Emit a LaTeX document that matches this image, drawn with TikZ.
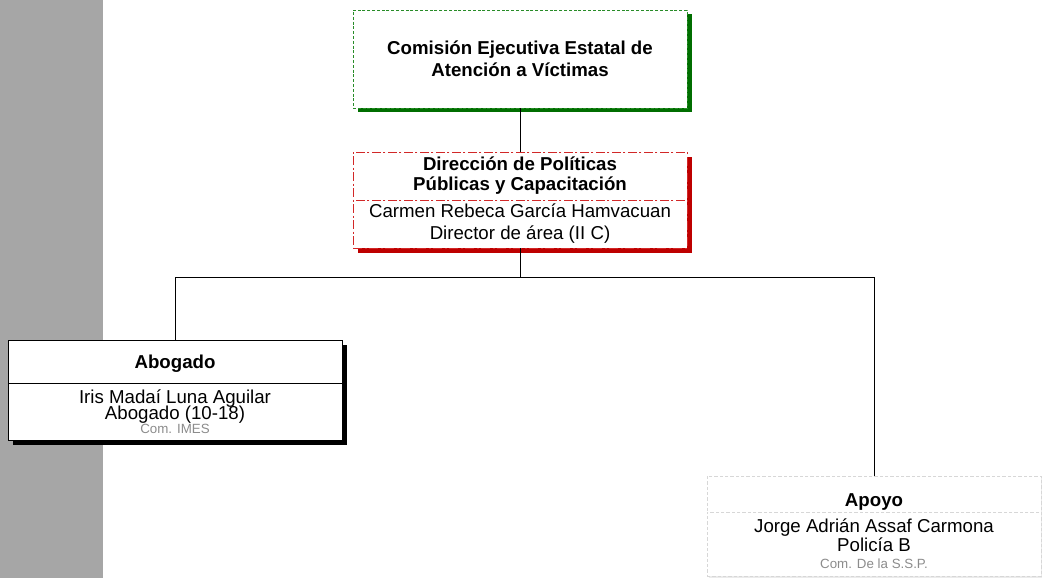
\documentclass[tikz,border=0pt]{standalone}
\usepackage{fontspec}
\setmainfont{Liberation Sans}
\usetikzlibrary{positioning,shadows}

\definecolor{stripgray}{RGB}{166,166,166}
\definecolor{cmsgreen}{RGB}{40,140,40}
\definecolor{shgreen}{RGB}{0,110,0}
\definecolor{dirred}{RGB}{210,40,40}
\definecolor{shred}{RGB}{190,0,0}
\definecolor{apogray}{RGB}{215,215,215}
\definecolor{aposhadow}{RGB}{235,235,235}
\definecolor{comgray}{RGB}{140,140,140}

\tikzset{
  unit/.style={rectangle, fill=white, minimum width=250.5pt, inner sep=1pt, outer sep=0pt, align=center, font=\fontsize{14}{15}\selectfont},
  greenbox/.style={unit, draw=cmsgreen, dash pattern=on 2.2pt off 1.4pt, general shadow={fill=shgreen, shadow xshift=3.5pt, shadow yshift=-3pt}},
  redbox/.style={unit, draw=dirred, dash pattern=on 7pt off 1.8pt on 1.4pt off 1.8pt, general shadow={fill=shred, shadow xshift=4pt, shadow yshift=-3.5pt}},
  blackbox/.style={unit, draw=black, general shadow={fill=black, shadow xshift=4pt, shadow yshift=-3.5pt}},
  greybox/.style={unit, draw=apogray, dash pattern=on 2.5pt off 1.5pt, general shadow={fill=aposhadow, shadow xshift=1.5pt, shadow yshift=-1.5pt}}
}

\begin{document}
\begin{tikzpicture}[x=0.75pt,y=-0.75pt]
\useasboundingbox (0,0) rectangle (1042,578);
\fill[stripgray] (0,0) rectangle (103,578);

\node[greenbox, minimum height=73.5pt] (com) at (520,59) {\bfseries Comisión Ejecutiva Estatal de\\[1.5pt]\bfseries Atención a Víctimas};

\node[redbox, minimum height=36pt] (dirH) at (520,176) {\bfseries Dirección de Políticas\\\bfseries Públicas y Capacitación};
\node[redbox, minimum height=36pt, below=0pt of dirH] (dirB) {Carmen Rebeca García Hamvacuan\\[1.5pt]Director de área (II C)};

\node[blackbox, minimum height=32.25pt] (aboH) at (175,361.5) {\raisebox{-1.5pt}[10pt][2.9pt]{\bfseries Abogado}};
\node[blackbox, minimum height=42.75pt, below=0pt of aboH] (aboB) {Iris Madaí Luna Aguilar\\[-2.5pt]Abogado (10-18)\\[-5pt]{\color{comgray}\fontsize{10}{10}\selectfont Com. IMES}};

\node[greybox, minimum height=27pt] (apoH) at (874,494) {\raisebox{-6pt}[10pt][2.9pt]{\bfseries Apoyo}};
\node[greybox, minimum height=48pt, below=0pt of apoH] (apoB) {Jorge Adrián Assaf Carmona\\[-1pt]Policía B\\[-2pt]{\color{comgray}\fontsize{10}{10}\selectfont Com. De la S.S.P.}};

\coordinate (split) at (520,277);
\draw (com.south) -- (dirH.north);
\draw (dirB.south) -- (split);
\draw (split) -| (aboH.north);
\draw (split) -| (apoH.north);
\end{tikzpicture}
\end{document}
